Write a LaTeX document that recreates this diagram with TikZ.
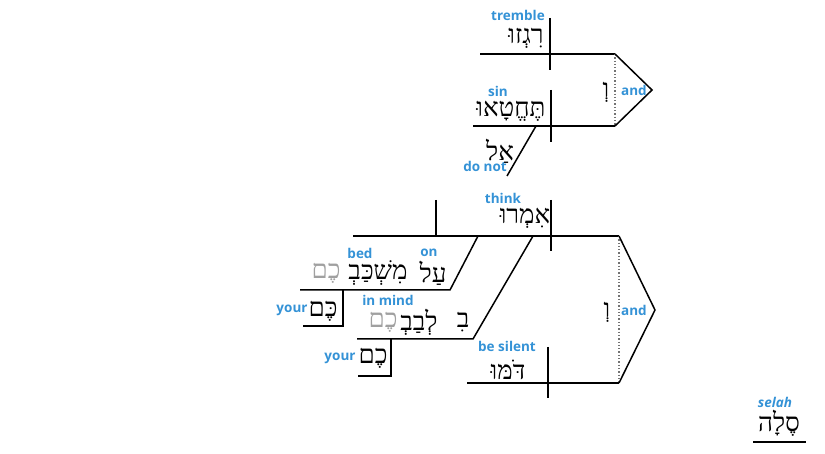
\documentclass[tikz,border=0pt]{standalone}
\usepackage{fontspec}
\setmainfont{Open Sans}
\newfontfamily\hebfont[Script=Hebrew]{Liberation Serif}
\TeXXeTstate=1
\usetikzlibrary{positioning}
\definecolor{glossblue}{RGB}{52,146,214}
\definecolor{suffixgray}{RGB}{160,160,160}
\newcommand{\heb}[1]{\beginR #1\endR}

\begin{document}
\begin{tikzpicture}[x=1pt, y=-1pt,
    word/.style={font=\hebfont\fontsize{26}{26}\selectfont, inner sep=0pt},
    suffix/.style={word, text=suffixgray},
    gloss/.style={font=\bfseries\fontsize{13.5}{13.5}\selectfont, text=glossblue, inner sep=0pt},
    baseline/.style={line width=1.5pt},
    joiner/.style={dotted, line width=1.3pt, draw=black!55} ]

    \useasboundingbox (0,0) rectangle (825,454);

    %Coordinates
    \coordinate (tr_l) at (480,54);  \coordinate (tr_r) at (615,54);
    \coordinate (tr_t) at (550,18);  \coordinate (tr_b) at (550,70);
    \coordinate (sn_l) at (473,126); \coordinate (sn_r) at (615,126);
    \coordinate (sn_t) at (551,90);  \coordinate (sn_b) at (551,142);
    \coordinate (dn_t) at (536,126); \coordinate (dn_b) at (507,176);
    \coordinate (and1_tip) at (652,90);

    \coordinate (th_l) at (353,236); \coordinate (th_r) at (619,236);
    \coordinate (th_t) at (551,200); \coordinate (th_b) at (551,251);
    \coordinate (obj_t) at (436,200); \coordinate (obj_b) at (436,236);
    \coordinate (on_t) at (478,236); \coordinate (on_b) at (450,290);
    \coordinate (bed_l) at (300,290);
    \coordinate (yr1_t) at (343,290); \coordinate (yr1_c) at (343,326); \coordinate (yr1_l) at (303,326);
    \coordinate (in_t) at (533,236); \coordinate (in_b) at (473,339);
    \coordinate (mind_l) at (357,339);
    \coordinate (yr2_t) at (391,339); \coordinate (yr2_c) at (391,376); \coordinate (yr2_l) at (358,376);
    \coordinate (bs_l) at (467,383); \coordinate (bs_r) at (619,383);
    \coordinate (bs_t) at (548,347); \coordinate (bs_b) at (548,398);
    \coordinate (and2_tip) at (655,310);
    \coordinate (sl_l) at (753,442); \coordinate (sl_r) at (806,442);

    %Words
    \node[gloss] (tremble) at (518,15) {tremble};
    \node[word] (rigzu) at (526,38) {\heb{רִגְזוּ}};
    \node[gloss] (sin) at (498,91) {sin};
    \node[word] (techetau) at (511,111) {\heb{תֶּחֱטָאוּ}};
    \node[word] (al) at (500,151) {\heb{אַל}};
    \node[gloss] (do_not) at (485,166) {do not};
    \node[word] (ve1) at (606,92) {\heb{וְ}};
    \node[gloss] (and1) at (634,90) {and};

    \node[gloss] (think) at (503,198) {think};
    \node[word] (imru) at (525,218) {\heb{אִמְרוּ}};
    \node[gloss] (bed) at (360,253) {bed};
    \node[gloss] (on) at (429,253) {on};
    \node[word] (al2) at (433,273) {\heb{עַל}};
    \node[word] (mishkav) at (378,273) {\heb{מִשְׁכַּבְ}};
    \node[suffix] (khem1) at (326,273) {\heb{כֶם}};
    \node[gloss] (your1) at (292,310) {your};
    \node[word] (khem2) at (323,311) {\heb{כֶּם}};
    \node[gloss] (in_mind) at (388,300) {in mind};
    \node[word] (bi) at (463,322) {\heb{בִ}};
    \node[word] (levav) at (419,322) {\heb{לְבַבְ}};
    \node[suffix] (khem3) at (383,322) {\heb{כֶם}};
    \node[gloss] (your2) at (340,358) {your};
    \node[word] (khem4) at (373,358) {\heb{כֶם}};
    \node[gloss] (be_silent) at (507,346) {be silent};
    \node[word] (dommu) at (508,370) {\heb{דֹּמּוּ}};
    \node[word] (ve2) at (607,312) {\heb{וְ}};
    \node[gloss] (and2) at (634,310) {and};

    \node[gloss, font=\bfseries\itshape\fontsize{13.5}{13.5}\selectfont] (selah) at (775,402) {selah};
    \node[word] (sela) at (779,423) {\heb{סֶלָה}};

    %Lines
    \draw[baseline] (tr_l) -- (tr_r);
    \draw[baseline] (tr_t) -- (tr_b);
    \draw[baseline] (sn_l) -- (sn_r);
    \draw[baseline] (sn_t) -- (sn_b);
    \draw[baseline] (dn_t) -- (dn_b);
    \draw[joiner] (tr_r) -- (sn_r);
    \draw[baseline] (tr_r) -- (and1_tip) -- (sn_r);

    \draw[baseline] (th_l) -- (th_r);
    \draw[baseline] (th_t) -- (th_b);
    \draw[baseline] (obj_t) -- (obj_b);
    \draw[baseline] (on_t) -- (on_b) -- (bed_l);
    \draw[baseline] (yr1_t) -- (yr1_c) -- (yr1_l);
    \draw[baseline] (in_t) -- (in_b) -- (mind_l);
    \draw[baseline] (yr2_t) -- (yr2_c) -- (yr2_l);
    \draw[baseline] (bs_l) -- (bs_r);
    \draw[baseline] (bs_t) -- (bs_b);
    \draw[joiner] (th_r) -- (bs_r);
    \draw[baseline] (th_r) -- (and2_tip) -- (bs_r);

    \draw[baseline] (sl_l) -- (sl_r);
\end{tikzpicture}
\end{document}
